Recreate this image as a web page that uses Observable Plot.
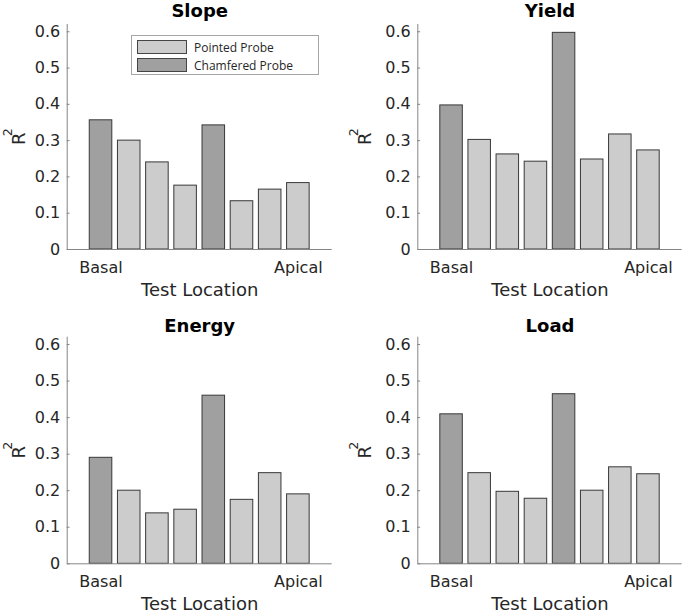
<!DOCTYPE html>
<html>
<head>
<meta charset="utf-8">
<script src="https://cdn.jsdelivr.net/npm/d3@7"></script>
<script src="https://cdn.jsdelivr.net/npm/@observablehq/plot@0.6"></script>
<style>
  html, body { margin: 0; padding: 0; background: #ffffff; }
  #chart { position: relative; width: 685px; height: 613px; background: #ffffff; font-family: "DejaVu Sans", sans-serif; }
  .panel { position: absolute; }
  .legend {
    position: absolute; left: 131px; top: 35px; width: 188px; height: 40px;
    border: 1px solid #a6a6a6; background: #ffffff; box-sizing: border-box;
    font-family: "Open Sans", sans-serif; font-size: 12px; color: #262626;
  }
  .legend .row { position: absolute; left: 5px; height: 14px; display: flex; align-items: center; }
  .legend .sw { width: 48px; height: 12px; border: 1px solid #454545; margin-right: 7px; }
</style>
</head>
<body>
<div id="chart"></div>
<script>
// ---- data ----
const locations = [1, 2, 3, 4, 5, 6, 7, 8];
const probes = ["Chamfered Probe", "Pointed Probe", "Pointed Probe", "Pointed Probe",
                "Chamfered Probe", "Pointed Probe", "Pointed Probe", "Pointed Probe"];
const slopeValues  = [0.356, 0.300, 0.240, 0.176, 0.342, 0.133, 0.165, 0.183];
const yieldValues  = [0.397, 0.302, 0.262, 0.242, 0.597, 0.248, 0.317, 0.273];
const energyValues = [0.290, 0.200, 0.138, 0.148, 0.460, 0.175, 0.248, 0.190];
const loadValues   = [0.409, 0.248, 0.197, 0.178, 0.464, 0.200, 0.264, 0.245];
const panelTitles = ["Slope", "Yield", "Energy", "Load"];
const yTicks = [0, 0.1, 0.2, 0.3, 0.4, 0.5, 0.6];
const xTickPositions = [1, 8];
const xTickLabels = ["Basal", "Apical"];
const legendLabels = ["Pointed Probe", "Chamfered Probe"];
const legendColors = ["#cccccc", "#a0a0a0"];
const xLabel = "Test Location";
const yLabelBase = "R";
const yLabelSup = "2";

// ---- layout ----
const xDomain = [-0.2, 9.2];
const yDomain = [0, 0.62];
const layouts = [
  {left: 0,   top: 0,   width: 340, height: 306, ml: 66.7, mr: 8.3, mt: 24,   mb: 57,   titleDy: -13,   ylabDx: -47.5},
  {left: 340, top: 0,   width: 345, height: 306, ml: 77.3, mr: 3.3, mt: 24,   mb: 57,   titleDy: -13,   ylabDx: -53},
  {left: 0,   top: 306, width: 340, height: 307, ml: 66.7, mr: 8.3, mt: 30.7, mb: 49.7, titleDy: -11.3, ylabDx: -47.5},
  {left: 340, top: 306, width: 345, height: 307, ml: 77.3, mr: 3.3, mt: 30.7, mb: 49.7, titleDy: -11.3, ylabDx: -53}
];
const series = [slopeValues, yieldValues, energyValues, loadValues];

const chart = document.getElementById("chart");

series.forEach((values, k) => {
  const L = layouts[k];
  const rows = locations.map((loc, i) => ({loc, value: values[i], probe: probes[i]}));
  const svg = Plot.plot({
    width: L.width,
    height: L.height,
    marginLeft: L.ml,
    marginRight: L.mr,
    marginTop: L.mt,
    marginBottom: L.mb,
    style: {fontFamily: "DejaVu Sans, sans-serif", fontSize: "16px", background: "transparent", overflow: "visible", color: "#262626"},
    x: {domain: xDomain, axis: null},
    y: {domain: yDomain, axis: null},
    color: {domain: legendLabels, range: legendColors},
    marks: [
      Plot.rect(rows, {
        x1: d => d.loc - 0.4, x2: d => d.loc + 0.4,
        y1: d => 0, y2: "value",
        fill: "probe", stroke: "#383838", strokeWidth: 1
      }),
      Plot.ruleY([yDomain[0]], {stroke: "#858585", strokeWidth: 1}),
      Plot.ruleX([xDomain[0]], {stroke: "#858585", strokeWidth: 1}),
      Plot.ruleY(yTicks, {x1: xDomain[0], x2: xDomain[0] + 0.1, stroke: "#858585", strokeWidth: 1}),
      Plot.axisY({
        ticks: yTicks, tickSize: 0, tickPadding: 7,
        tickFormat: d => (d === 0 ? "0" : d.toFixed(1)),
        fontSize: 16, fill: "#262626", label: null
      }),
      Plot.axisX({
        ticks: xTickPositions, tickSize: 0, tickPadding: 12,
        tickFormat: d => xTickLabels[xTickPositions.indexOf(d)],
        fontSize: 16, fill: "#262626", label: null
      }),
      Plot.text([panelTitles[k]], {frameAnchor: "top", lineAnchor: "middle", textAnchor: "middle", dy: L.titleDy, fontWeight: "bold", fontSize: 18, fill: "#000000"}),
      Plot.text([xLabel], {frameAnchor: "bottom", lineAnchor: "middle", textAnchor: "middle", dy: 40.7, fontSize: 18, fill: "#262626"}),
      Plot.text([yLabelBase], {frameAnchor: "left", lineAnchor: "middle", textAnchor: "middle", rotate: -90, dx: L.ylabDx, dy: 1.8, fontSize: 18, fill: "#262626"}),
      Plot.text([yLabelSup], {frameAnchor: "left", lineAnchor: "middle", textAnchor: "middle", rotate: -90, dx: L.ylabDx - 11.2, dy: -4.8, fontSize: 12.5, fill: "#262626"})
    ]
  });
  svg.classList.add("panel");
  svg.style.left = L.left + "px";
  svg.style.top = L.top + "px";
  chart.appendChild(svg);
});

// legend (inside the first panel)
const legend = document.createElement("div");
legend.className = "legend";
legendLabels.forEach((lab, i) => {
  const row = document.createElement("div");
  row.className = "row";
  row.style.top = (4 + i * 18) + "px";
  const sw = document.createElement("div");
  sw.className = "sw";
  sw.style.background = legendColors[i];
  const tx = document.createElement("span");
  tx.textContent = lab;
  row.appendChild(sw);
  row.appendChild(tx);
  legend.appendChild(row);
});
chart.appendChild(legend);
</script>
</body>
</html>
